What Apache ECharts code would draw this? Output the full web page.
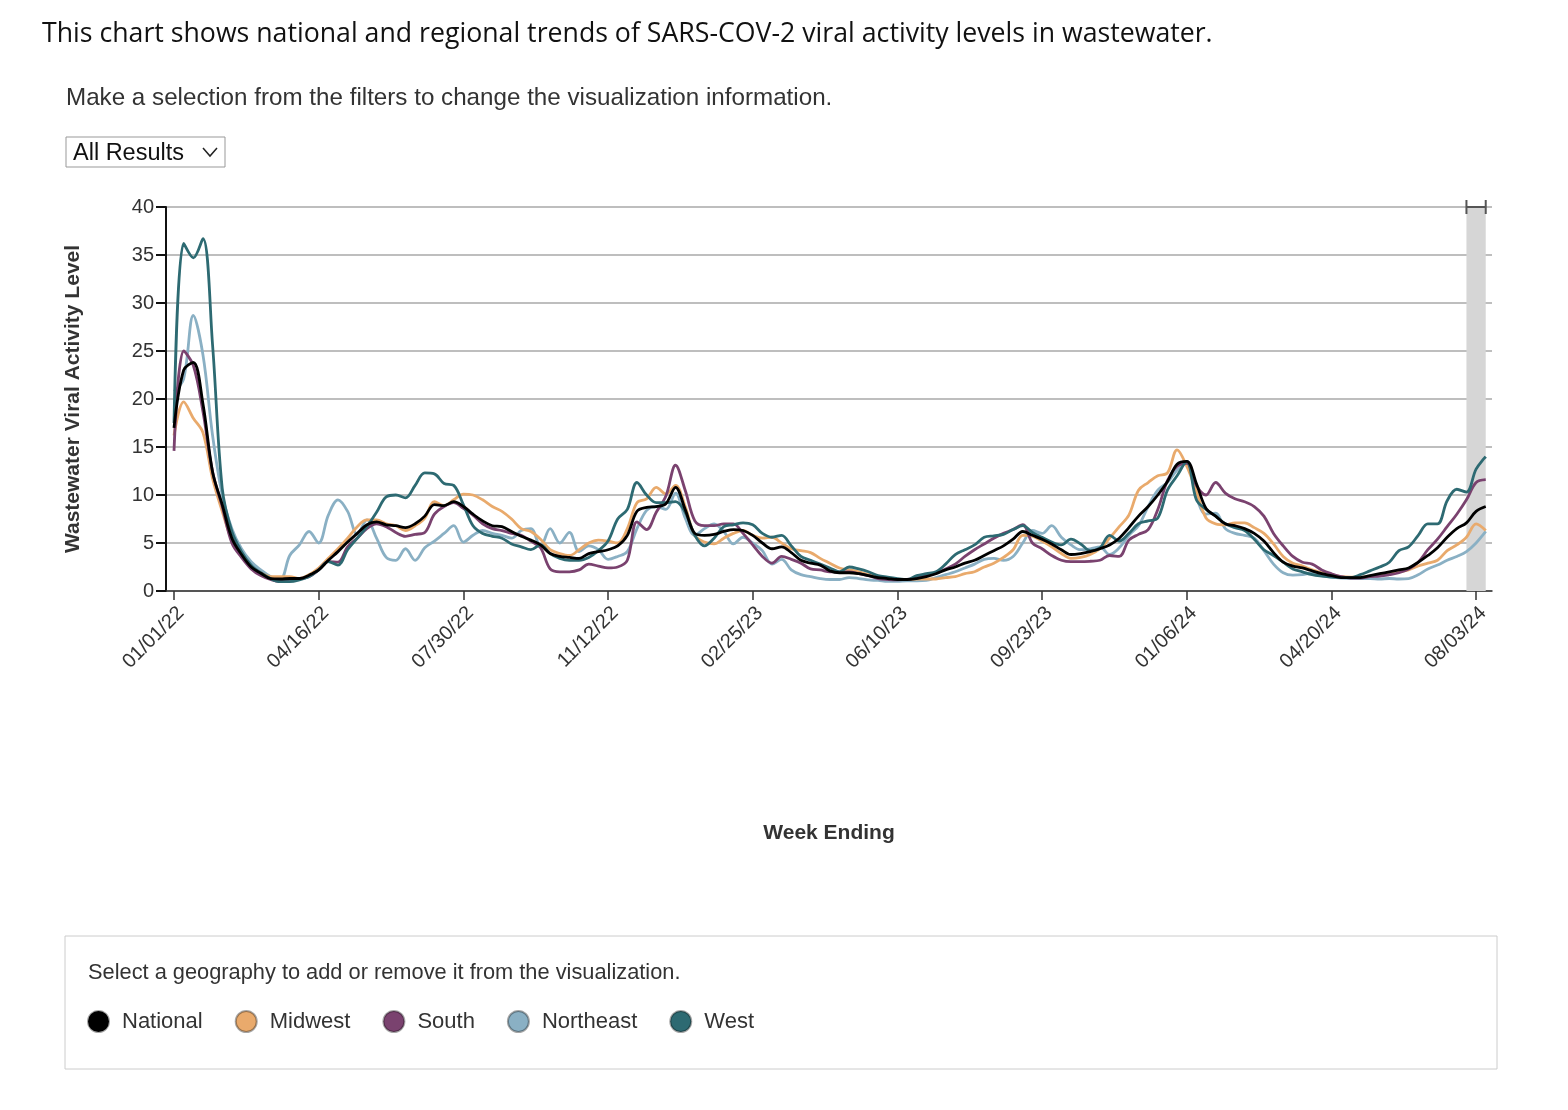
<!DOCTYPE html>
<html><head><meta charset="utf-8">
<script src="https://cdn.jsdelivr.net/npm/echarts@6/dist/echarts.min.js"></script>
<style>html,body{margin:0;padding:0;background:#fff}#c{width:1568px;height:1110px}</style>
</head><body><div id="c"></div>
<script>
// ---- data ----
const firstWeek = '2022-01-01';
const weekCount = 137;
const tickWeeks = [0, 15, 30, 45, 60, 75, 90, 105, 120, 135];
const tickLabels = ['01/01/22','04/16/22','07/30/22','11/12/22','02/25/23','06/10/23','09/23/23','01/06/24','04/20/24','08/03/24'];
const seriesNames = ['National','Midwest','South','Northeast','West'];
const provisionalWeeks = [134, 136];

const national = [
17, 23.0, 23.8, 19.5, 12.4, 9.0, 5.5, 3.8, 2.5, 1.85, 1.3, 1.25, 1.3, 1.3, 1.65,
2.2, 3.2, 4.1, 5.1, 6.0, 6.9, 7.2, 6.9, 6.8, 6.6, 7.0, 7.8, 9.0, 8.9, 9.3,
8.8, 8.0, 7.3, 6.8, 6.7, 6.2, 5.7, 5.3, 4.8, 3.9, 3.6, 3.5, 3.4, 3.9, 4.1,
4.3, 4.7, 5.8, 8.3, 8.7, 8.8, 9.1, 10.8, 8.5, 6.0, 5.8, 5.9, 6.2, 6.4, 6.3,
5.8, 5.0, 4.4, 4.6, 4.0, 3.2, 2.9, 2.7, 2.1, 1.9, 1.9, 1.8, 1.6, 1.4, 1.3,
1.2, 1.2, 1.3, 1.5, 1.8, 2.2, 2.5, 2.9, 3.2, 3.7, 4.2, 4.7, 5.4, 6.2, 5.8,
5.4, 4.9, 4.3, 3.8, 3.9, 4.1, 4.4, 4.8, 5.5, 6.6, 7.8, 8.8, 10.0, 11.4, 13.2,
13.5, 11.2, 8.6, 7.8, 7.0, 6.8, 6.5, 6.0, 5.2, 4.0, 3.0, 2.6, 2.4, 2.1, 1.8,
1.6, 1.4, 1.4, 1.4, 1.6, 1.8, 2.0, 2.2, 2.4, 3.0, 3.7, 4.5, 5.6, 6.5, 7.1, 8.3, 8.8
];
const midwest = [
16.2, 19.7, 18.0, 16.5, 11.7, 8.3, 5.3, 3.7, 2.5, 1.9, 1.5, 1.5, 1.5, 1.3, 1.7,
2.4, 3.4, 4.4, 5.5, 6.7, 7.4, 7.4, 7.0, 6.8, 6.3, 6.8, 7.6, 9.3, 8.9, 9.5,
10.1, 10.0, 9.5, 8.8, 8.3, 7.5, 6.5, 6.2, 5.4, 4.3, 3.9, 3.7, 4.3, 5.0, 5.3,
5.2, 5.0, 6.5, 9.2, 9.6, 10.8, 10.1, 11.0, 8.8, 5.8, 5.1, 4.9, 5.5, 6.0, 6.3,
5.8, 5.5, 5.6, 5.0, 4.4, 4.2, 4.0, 3.4, 2.9, 2.4, 2.2, 2.0, 1.7, 1.5, 1.3,
1.2, 1.2, 1.25, 1.25, 1.25, 1.4, 1.5, 1.8, 2.0, 2.5, 2.9, 3.5, 4.3, 5.8, 5.7,
5.2, 4.6, 3.9, 3.4, 3.5, 3.8, 4.4, 5.5, 6.7, 7.9, 10.5, 11.3, 12.0, 12.3, 14.7,
13.0, 10.4, 7.6, 7.0, 6.9, 7.1, 7.1, 6.6, 6.0, 4.9, 3.6, 2.9, 2.6, 2.2, 1.9,
1.7, 1.5, 1.45, 1.45, 1.55, 1.65, 1.8, 2.0, 2.2, 2.6, 2.9, 3.2, 4.2, 4.8, 5.6, 7.0, 6.3
];
const south = [
14.6, 25, 23.5, 18.7, 12.4, 8.8, 5.0, 3.5, 2.3, 1.6, 1.2, 1.0, 1.15, 1.3, 1.5,
2.2, 3.05, 3.0, 4.6, 5.5, 6.5, 7.0, 6.7, 6.1, 5.7, 5.9, 6.1, 8.0, 8.8, 9.2,
8.6, 7.9, 7.0, 6.5, 6.3, 6.0, 5.8, 5.2, 4.5, 2.3, 2.0, 2.0, 2.2, 2.8, 2.6,
2.4, 2.5, 3.2, 7.2, 6.4, 8.2, 9.9, 13.1, 10.5, 7.3, 6.8, 6.8, 7.0, 7.0, 6.0,
4.8, 3.6, 2.9, 3.6, 3.3, 2.9, 2.3, 2.2, 2.0, 2.0, 2.0, 1.8, 1.6, 1.3, 1.2,
1.15, 1.2, 1.4, 1.6, 1.85, 2.3, 2.8, 3.6, 4.3, 4.9, 5.5, 6.0, 6.4, 6.9, 5.0,
4.4, 3.7, 3.2, 3.05, 3.05, 3.1, 3.2, 3.7, 3.6, 5.3, 5.9, 6.4, 8.5, 11.5, 13.0,
13.3, 11.0, 10.0, 11.3, 10.2, 9.6, 9.3, 8.8, 7.8, 6.0, 4.7, 3.6, 3.0, 2.8, 2.2,
1.8, 1.5, 1.35, 1.35, 1.5, 1.55, 1.7, 1.9, 2.3, 3.0, 4.3, 5.4, 6.7, 8.0, 9.5, 11.3, 11.6
];
const northeast = [
20.8, 22.1, 28.7, 24.6, 16.2, 10.0, 6.5, 4.4, 3.05, 2.2, 1.5, 1.15, 3.7, 4.8, 6.2,
5.0, 7.9, 9.5, 8.3, 5.9, 7.4, 5.5, 3.5, 3.2, 4.4, 3.2, 4.5, 5.2, 6.0, 6.8,
5.1, 5.8, 6.3, 6.0, 5.8, 5.5, 6.3, 6.5, 4.6, 6.5, 5.0, 6.1, 4.1, 4.7, 4.3,
3.3, 3.6, 4.1, 6.5, 8.4, 8.8, 8.5, 10.2, 7.6, 5.8, 6.5, 7.0, 6.2, 4.9, 5.6,
5.0, 4.2, 2.8, 3.3, 2.2, 1.7, 1.5, 1.3, 1.2, 1.2, 1.4, 1.3, 1.15, 1.1, 1.0,
1.0, 1.05, 1.05, 1.1, 1.4, 1.7, 2.0, 2.4, 2.8, 3.3, 3.4, 3.2, 3.6, 5.0, 6.3,
6.0, 6.8, 5.6, 4.8, 4.3, 4.4, 4.6, 3.8, 4.5, 5.8, 6.8, 8.8, 10.5, 11.3, 12.6,
13.5, 9.8, 8.0, 8.1, 6.5, 6.0, 5.8, 5.5, 4.2, 2.8, 1.9, 1.65, 1.7, 1.85, 1.6,
1.45, 1.35, 1.3, 1.3, 1.3, 1.25, 1.3, 1.25, 1.3, 1.7, 2.3, 2.7, 3.2, 3.6, 4.1, 5.0, 6.2
];
const west = [
17.5, 36.2, 34.7, 36.7, 25.6, 10.7, 6.2, 4.1, 2.7, 1.9, 1.3, 0.97, 0.97, 1.15, 1.5,
2.2, 3.05, 2.7, 4.3, 5.5, 6.7, 8.2, 9.8, 10.0, 9.7, 11.0, 12.3, 12.2, 11.2, 11.0,
9.0, 6.8, 6.0, 5.7, 5.5, 4.9, 4.6, 4.3, 4.8, 3.9, 3.4, 3.2, 3.2, 3.5, 4.2,
5.2, 7.5, 8.5, 11.3, 10.0, 9.2, 9.2, 9.3, 8.2, 5.8, 4.7, 5.5, 6.7, 6.9, 7.1,
6.9, 6.0, 5.6, 5.8, 4.7, 3.6, 3.2, 2.8, 2.4, 2.0, 2.5, 2.3, 2.0, 1.6, 1.45,
1.3, 1.2, 1.6, 1.8, 2.0, 2.8, 3.8, 4.3, 4.8, 5.6, 5.75, 5.9, 6.4, 6.8, 6.1,
5.6, 5.1, 4.8, 5.4, 4.9, 4.2, 4.5, 5.8, 5.2, 6.0, 7.0, 7.3, 7.6, 10.5, 12.0,
13.5, 9.5, 8.5, 7.8, 7.0, 6.6, 6.3, 5.4, 4.3, 3.7, 3.0, 2.3, 2.0, 1.7, 1.55,
1.45, 1.4, 1.4, 1.7, 2.1, 2.5, 3.0, 4.2, 4.6, 5.8, 7.0, 7.0, 9.4, 10.6, 10.3, 12.7, 14.0
];
const colors = {National:'#000000', Midwest:'#e9aa6c', South:'#7a426f', Northeast:'#8ab0c4', West:'#2d6a72'};

// ---- build ----
const values = {National: national, Midwest: midwest, South: south, Northeast: northeast, West: west};
const pairs = arr => arr.map((v, i) => [i, v]);
const drawOrder = ['Northeast','Midwest','South','West','National'];
const FONT = '"Liberation Sans", Arial, sans-serif';

const lineSeries = drawOrder.map((name, k) => ({
  name, type: 'line', data: pairs(values[name]), smooth: 0.35, showSymbol: false, symbol: 'circle',
  lineStyle: {width: 2.8, color: colors[name]}, itemStyle: {color: colors[name], borderColor: 'rgba(0,0,0,0.35)', borderWidth: 1},
  z: 3 + k, emphasis: {disabled: true},
  markArea: k === 0 ? {silent: true, itemStyle: {color: '#d6d6d6'}, data: [[{xAxis: provisionalWeeks[0]}, {xAxis: provisionalWeeks[1]}]]} : undefined
}));

const bracket = {
  type: 'custom', z: 10, silent: true, clip: false,
  data: [[provisionalWeeks[0], provisionalWeeks[1], 40]],
  renderItem: (params, api) => {
    const a = api.coord([api.value(0), api.value(2)]);
    const b = api.coord([api.value(1), api.value(2)]);
    const st = {stroke: '#555', lineWidth: 2};
    return {type: 'group', children: [
      {type: 'line', shape: {x1: a[0], y1: a[1], x2: b[0], y2: b[1]}, style: st},
      {type: 'line', shape: {x1: a[0], y1: a[1] - 7, x2: a[0], y2: a[1] + 7}, style: st},
      {type: 'line', shape: {x1: b[0], y1: b[1] - 7, x2: b[0], y2: b[1] + 7}, style: st}
    ]};
  }
};

const chart = echarts.init(document.getElementById('c'), null, {renderer: 'canvas'});
chart.setOption({
  animation: false,
  backgroundColor: '#fff',
  textStyle: {fontFamily: FONT},
  color: drawOrder.map(n => colors[n]),
  grid: {left: 166, right: 76, top: 207, bottom: 519, containLabel: false},
  xAxis: {
    type: 'value', min: -0.83, max: 136.65,
    name: 'Week Ending', nameLocation: 'middle', nameGap: 232,
    nameTextStyle: {fontSize: 21, fontWeight: 'bold', color: '#333', fontFamily: FONT},
    axisLine: {show: true, onZero: false, lineStyle: {color: '#333', width: 1.5}},
    axisTick: {show: true, length: 9, lineStyle: {color: '#333', width: 1.5}, customValues: tickWeeks},
    axisLabel: {customValues: tickWeeks, rotate: 45, fontSize: 20, color: '#333', margin: 12, verticalAlign: 'top', fontFamily: FONT,
      formatter: v => tickLabels[tickWeeks.indexOf(Math.round(v))] || ''},
    splitLine: {show: false}
  },
  yAxis: {
    type: 'value', min: 0, max: 40, interval: 5,
    name: 'Wastewater Viral Activity Level', nameLocation: 'middle', nameGap: 82,
    nameTextStyle: {fontSize: 21, fontWeight: 'bold', color: '#333', fontFamily: FONT},
    axisLine: {show: true, onZero: false, lineStyle: {color: '#111', width: 2}},
    axisTick: {show: true, length: 10, lineStyle: {color: '#111', width: 2}},
    axisLabel: {fontSize: 20, color: '#333', margin: 12, fontFamily: FONT},
    splitLine: {show: true, lineStyle: {color: '#a9a9a9', width: 1.6}}
  },
  legend: {
    data: seriesNames, left: 82, top: 1005, icon: 'circle', itemWidth: 21, itemHeight: 21, itemGap: 32,
    selectedMode: true,
    textStyle: {fontSize: 22, color: '#333', fontFamily: FONT, padding: [0, 0, 0, 8]}
  },
  graphic: [
    {type: 'text', left: 42, top: 21, style: {text: 'This chart shows national and regional trends of SARS-COV-2 viral activity levels in wastewater.', font: '26.7px "Open Sans", "Noto Sans", sans-serif', fill: '#111'}},
    {type: 'text', left: 66, top: 86, style: {text: 'Make a selection from the filters to change the visualization information.', font: '24.2px ' + FONT, fill: '#333'}},
    {type: 'rect', shape: {x: 66, y: 137, width: 159, height: 30}, style: {fill: '#fff', stroke: '#999', lineWidth: 1}},
    {type: 'text', left: 73, top: 142, style: {text: 'All Results', font: '23.5px ' + FONT, fill: '#111'}},
    {type: 'polyline', shape: {points: [[203, 148], [210, 156], [217, 148]]}, style: {stroke: '#222', lineWidth: 1.5, fill: null}},
    {type: 'rect', shape: {x: 65, y: 936, width: 1432, height: 133}, style: {fill: null, stroke: '#ccc', lineWidth: 1}},
    {type: 'text', left: 88, top: 962, style: {text: 'Select a geography to add or remove it from the visualization.', font: '21.8px ' + FONT, fill: '#333'}}
  ],
  series: [...lineSeries, bracket]
});
</script></body></html>
